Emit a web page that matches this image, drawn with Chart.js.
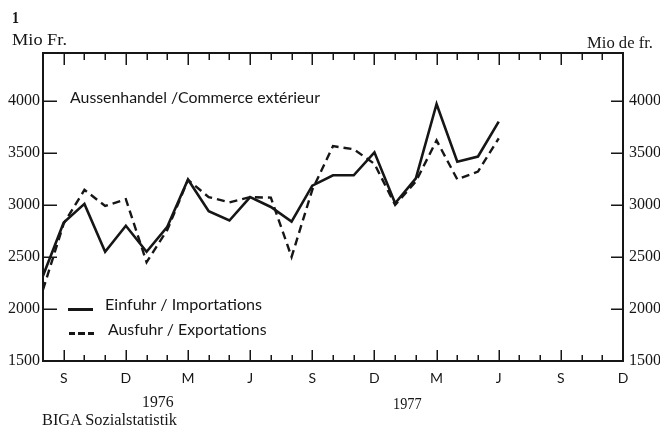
<!DOCTYPE html>
<html><head><meta charset="utf-8">
<script src="https://cdn.jsdelivr.net/npm/chart.js@4.4.0/dist/chart.umd.min.js"></script>
<style>
html,body{margin:0;padding:0;background:#fff;}
#wrap{position:relative;width:660px;height:432px;overflow:hidden;background:#fff;}
canvas{position:absolute;left:0;top:0;}
.t{position:absolute;white-space:nowrap;color:#161616;line-height:normal;}
.m{display:inline-block;width:0;height:0;}
.ls{position:absolute;}
</style></head><body>
<div id="wrap"><canvas id="c" width="660" height="432"></canvas></div>
<script>
// Months from Aug 1975 to Dec 1977
const categories = [
  "1975-08","1975-09","1975-10","1975-11","1975-12",
  "1976-01","1976-02","1976-03","1976-04","1976-05","1976-06","1976-07","1976-08","1976-09","1976-10","1976-11","1976-12",
  "1977-01","1977-02","1977-03","1977-04","1977-05","1977-06","1977-07","1977-08","1977-09","1977-10","1977-11","1977-12"
];
const majorMonthNums = [9, 12, 3, 6];
const majorMonthLetters = ["S", "D", "M", "J"];
const yearLabels = ["1976", "1977"];
const yTickValues = [1500, 2000, 2500, 3000, 3500, 4000];

// Mio Fr., Aug 1975 .. Jun 1977
const imports = [2320, 2830, 3010, 2550, 2800, 2550, 2790, 3245, 2940, 2850, 3075, 2980,
                 2840, 3185, 3285, 3285, 3505, 3015, 3255, 3970, 3415, 3465, 3800];
const exportsData = [2185, 2820, 3145, 2990, 3055, 2450, 2760, 3240, 3075, 3025, 3075, 3070,
                 2500, 3145, 3565, 3535, 3395, 3000, 3225, 3620, 3245, 3320, 3640];

const INK = '#161616';

function monthOf(cat){ return parseInt(cat.split('-')[1], 10); }
function xLabel(i){
  const k = majorMonthNums.indexOf(monthOf(categories[i]));
  return k >= 0 ? majorMonthLetters[k] : '';
}

const frame = {
  id: 'frame',
  afterDatasetsDraw(chart){
    const {ctx, chartArea: a, scales} = chart;
    const x = scales.x, y = scales.y;
    ctx.save();
    ctx.strokeStyle = INK;
    ctx.lineCap = 'butt';
    ctx.lineWidth = 1.5;
    ctx.beginPath();
    categories.forEach((c, i) => {
      const px = Math.round(x.getPixelForValue(i)) + 0.25;
      const major = majorMonthNums.indexOf(monthOf(c)) >= 0;
      ctx.moveTo(px, a.bottom); ctx.lineTo(px, a.bottom - (major ? 11 : 6));
      ctx.moveTo(px, a.top); ctx.lineTo(px, a.top + (major ? 12 : 7));
    });
    yTickValues.forEach(v => {
      const py = Math.round(y.getPixelForValue(v)) + 0.25;
      ctx.moveTo(a.left, py); ctx.lineTo(a.left + 14, py);
      ctx.moveTo(a.right - 12, py); ctx.lineTo(a.right, py);
    });
    ctx.stroke();
    ctx.lineWidth = 2;
    ctx.strokeRect(a.left, a.top, a.right - a.left, a.bottom - a.top);
    ctx.restore();
  }
};

const yScaleBase = (pos, width, pad) => ({
  position: pos, min: 1500, max: 4460,
  grid: {display: false, drawTicks: false, tickLength: 0}, border: {display: false},
  afterBuildTicks: s => { s.ticks = yTickValues.map(v => ({value: v})); },
  ticks: {padding: pad, color: INK, font: {family: 'Liberation Serif', size: 16},
          callback: v => String(v)},
  afterFit: s => { s.width = width; }
});

new Chart(document.getElementById('c').getContext('2d'), {
  type: 'line',
  data: {
    labels: categories,
    datasets: [
      {label: 'Einfuhr / Importations', data: imports, borderColor: INK, borderWidth: 2.6,
       pointRadius: 0, tension: 0, fill: false, yAxisID: 'y'},
      {label: 'Ausfuhr / Exportations', data: exportsData, borderColor: INK, borderWidth: 2.4,
       borderDash: [8, 5], pointRadius: 0, tension: 0, fill: false, yAxisID: 'y'}
    ]
  },
  options: {
    responsive: false, animation: false, devicePixelRatio: 1,
    layout: {padding: {top: 53, left: 0, right: 0, bottom: 0}},
    plugins: {legend: {display: false}, tooltip: {enabled: false}},
    scales: {
      x: {type: 'category', offset: false,
          grid: {display: false, drawTicks: false, tickLength: 0}, border: {display: false},
          ticks: {autoSkip: false, maxRotation: 0, minRotation: 0, padding: 9, color: INK,
                  font: {family: 'Lato', size: 14}, callback: (v, i) => xLabel(i)},
          afterFit: s => { s.height = 71; }},
      y: yScaleBase('left', 43, 3),
      y2: yScaleBase('right', 37, 6)
    }
  },
  plugins: [frame]
});

const wrap = document.getElementById('wrap');
function place(o){
  const d = document.createElement('div'); d.className = 't';
  d.style.fontFamily = o.family; d.style.fontSize = o.size + 'px';
  d.style.fontWeight = o.weight || 'normal';
  const s = document.createElement('span'); s.textContent = o.text;
  const m = document.createElement('span'); m.className = 'm';
  d.appendChild(s); d.appendChild(m);
  wrap.appendChild(d);
  const w = s.getBoundingClientRect().width;
  const k = o.width / w;
  d.style.top = (o.baseline - m.offsetTop) + 'px';
  const left = (o.center != null) ? o.center - o.width / 2 : o.left;
  d.style.left = left + 'px';
  d.style.transformOrigin = '0 0';
  d.style.transform = 'scaleX(' + k + ')';
}
const serif = "'Liberation Serif', serif";
const sans = "Lato, 'Open Sans', sans-serif";
place({text: '1', left: 11.5, baseline: 22.5, width: 7, size: 16, weight: 'bold', family: serif});
place({text: 'Mio Fr.', left: 12, baseline: 45, width: 55, size: 17, family: serif});
place({text: 'Mio de fr.', left: 587, baseline: 48, width: 66, size: 17, family: serif});
place({text: 'Aussenhandel /Commerce extérieur', left: 70, baseline: 103.3, width: 250, size: 15, family: sans});
place({text: 'Einfuhr / Importations', left: 105, baseline: 309.5, width: 157, size: 15, family: sans});
place({text: 'Ausfuhr / Exportations', left: 108, baseline: 335, width: 158.5, size: 15, family: sans});
place({text: yearLabels[0], center: 157.5, baseline: 406.7, width: 31.5, size: 16, family: serif});
place({text: yearLabels[1], center: 407.5, baseline: 409, width: 28.5, size: 16, family: serif});
place({text: 'BIGA Sozialstatistik', left: 41.7, baseline: 425, width: 135, size: 16, family: serif});

const solid = document.createElement('div'); solid.className = 'ls';
Object.assign(solid.style, {left: '68px', top: '307.5px', width: '25px', height: '3px', background: INK});
wrap.appendChild(solid);
const dashed = document.createElement('div'); dashed.className = 'ls';
Object.assign(dashed.style, {left: '69px', top: '331.5px', width: '24.5px', height: '3px',
  background: 'repeating-linear-gradient(to right, ' + INK + ' 0 6.5px, transparent 6.5px 9.5px)'});
wrap.appendChild(dashed);
</script>
</body></html>
